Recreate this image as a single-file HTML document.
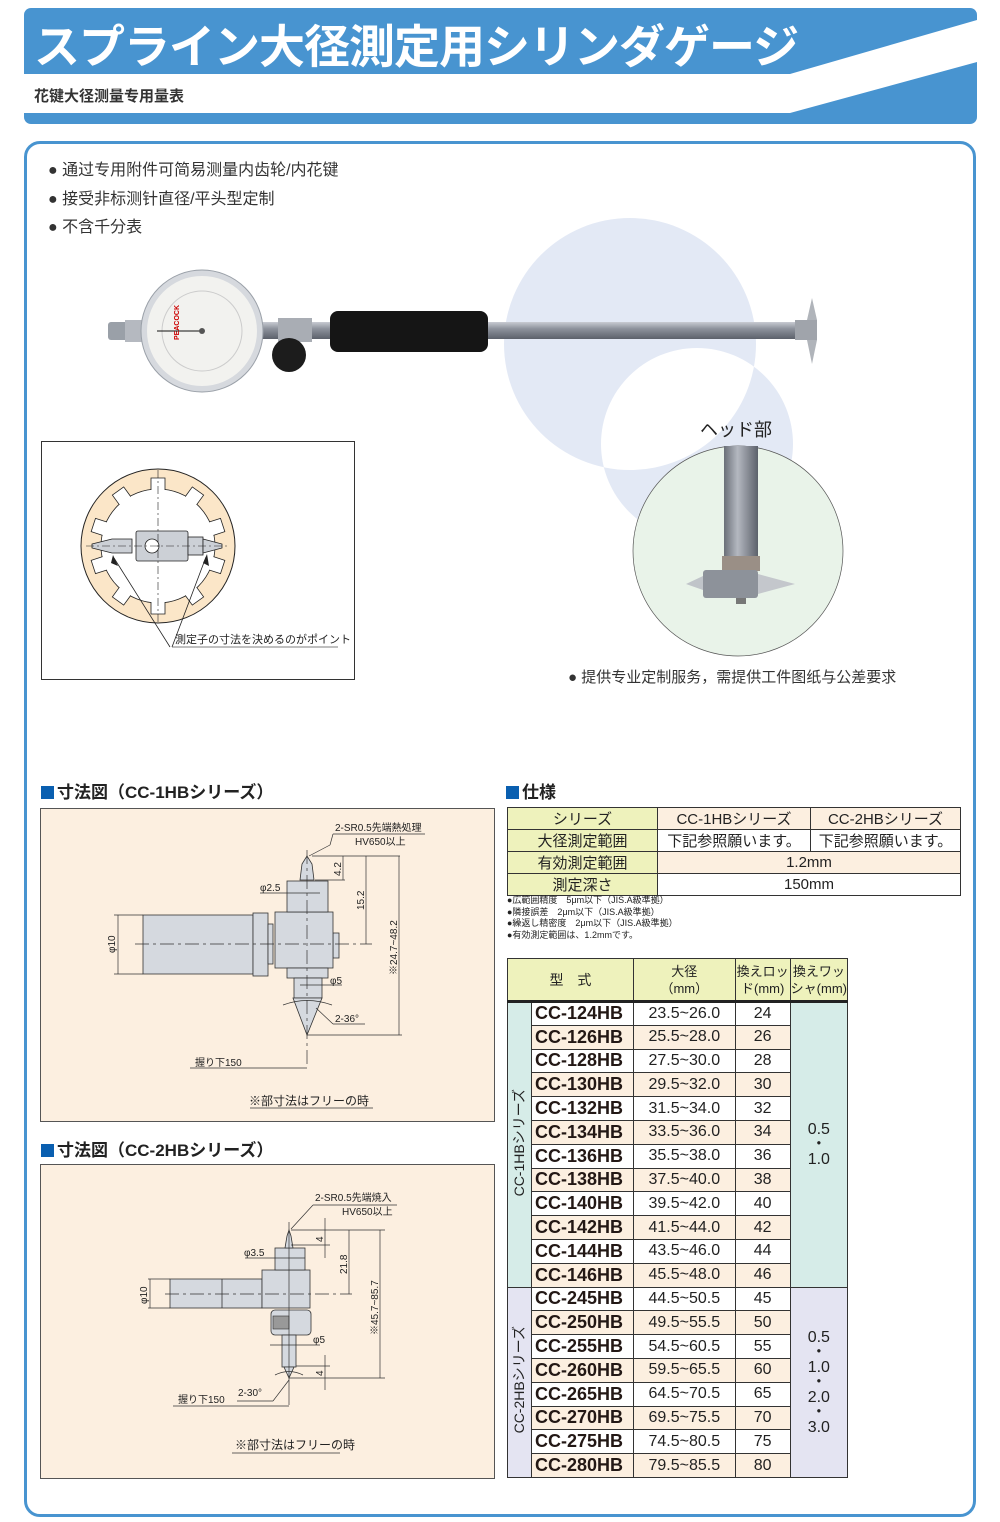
<!DOCTYPE html>
<html><head><meta charset="utf-8">
<style>
*{margin:0;padding:0;box-sizing:border-box}
body{width:1000px;height:1522px;background:#fff;position:relative;overflow:hidden;font-family:"Liberation Sans","Noto Sans CJK JP",sans-serif;color:#222}
.a{position:absolute;white-space:nowrap}
.sec{font-size:17px;font-weight:bold;color:#222}
.sec b{display:inline-block;width:13px;height:13px;background:#0a5fb0;margin-right:3px;vertical-align:-1px}
table{border-collapse:collapse;position:absolute}
td{border:1px solid #333;text-align:center;padding:0;white-space:nowrap}
.spec td{font-size:15px;height:21px;color:#222}
.g{background:#eef2bc}
.p{background:#fcefe0}
.m td{height:23.8px;font-size:16px}
.m td.n{font-weight:bold;font-size:18px;text-align:left;padding-left:3px;color:#231815}
.vl{writing-mode:vertical-rl;text-orientation:sideways;transform:rotate(180deg);font-size:14px;margin:0 auto;display:inline-block}
</style></head><body>

<!-- header -->
<svg class="a" style="left:0;top:0" width="1000" height="130">
<rect x="24" y="8" width="953" height="116" rx="7" fill="#4894d0"/>
<polygon points="24,74 790,74 977,20 977,62 790,113 24,113" fill="#fff"/>
</svg>
<div class="a" style="left:34px;top:11px;font-size:46px;font-weight:bold;color:#fff;letter-spacing:-1px;font-family:'Noto Sans CJK JP',sans-serif">スプライン大径測定用シリンダゲージ</div>
<div class="a" style="left:34px;top:85px;font-size:15px;color:#333;font-weight:bold">花键大径测量专用量表</div>

<!-- main frame -->
<div class="a" style="left:24px;top:141px;width:952px;height:1376px;border:3px solid #4894d0;border-radius:16px"></div>

<div class="a" style="left:48px;top:157px;font-size:16px;line-height:28.5px;color:#333">● 通过专用附件可简易测量内齿轮/内花键<br>● 接受非标测针直径/平头型定制<br>● 不含千分表</div>

<!-- circles & photos -->
<svg class="a" style="left:0;top:200px" width="1000" height="500" viewBox="0 200 1000 500">
<defs><clipPath id="c1"><circle cx="630" cy="344" r="126"/></clipPath>
<linearGradient id="bar" x1="0" y1="0" x2="0" y2="1"><stop offset="0" stop-color="#c8cbd2"/><stop offset=".4" stop-color="#8d929c"/><stop offset="1" stop-color="#5c616b"/></linearGradient>
<linearGradient id="vb" x1="0" y1="0" x2="1" y2="0"><stop offset="0" stop-color="#6a6f78"/><stop offset=".4" stop-color="#b4b8c0"/><stop offset="1" stop-color="#5c616b"/></linearGradient></defs>
<circle cx="630" cy="344" r="126" fill="#e3e9f5"/>
<circle cx="697" cy="444" r="96" fill="#e3e9f5"/>
<circle cx="697" cy="444" r="96" fill="#fff" clip-path="url(#c1)"/>
<rect x="108" y="322" width="40" height="18" rx="3" fill="#9aa0a8"/>
<rect x="125" y="320" width="20" height="22" fill="#b5b9c0"/>
<rect x="255" y="322" width="560" height="17" fill="url(#bar)"/>
<rect x="278" y="318" width="34" height="24" fill="#a9adb4"/>
<circle cx="289" cy="355" r="17" fill="#1c1c1c"/>
<rect x="330" y="311" width="158" height="41" rx="8" fill="#151515"/>
<circle cx="202" cy="331" r="61" fill="#d6d9de" stroke="#9aa0a8"/>
<circle cx="202" cy="331" r="55" fill="#f2f2ef"/>
<circle cx="202" cy="331" r="40" fill="none" stroke="#ccc"/>
<line x1="157" y1="331" x2="200" y2="331" stroke="#111" stroke-width="1"/>
<circle cx="202" cy="331" r="3" fill="#555"/>
<text x="165" y="340" font-size="7" fill="#c00" font-weight="bold" transform="rotate(-90 172 333)">PEACOCK</text>
<rect x="795" y="320" width="22" height="20" fill="#a0a4ab"/>
<polygon points="807,320 812,298 817,320" fill="#b0b4ba"/>
<polygon points="807,340 812,364 817,340" fill="#b0b4ba"/>
<circle cx="738" cy="551" r="105" fill="#e9f3e9" stroke="#555" stroke-width=".7"/>
<rect x="724" y="446" width="34" height="110" fill="url(#vb)"/>
<rect x="722" y="556" width="38" height="15" fill="#9a8f86"/>
<rect x="703" y="570" width="55" height="28" rx="3" fill="#8d929a"/>
<polygon points="703,576 686,584 703,590" fill="#c0c4c9"/>
<polygon points="758,574 795,584 758,594" fill="#c4c7cc"/>
<rect x="736" y="598" width="10" height="6" fill="#777"/>
</svg>
<div class="a" style="left:700px;top:416px;font-size:18px;color:#222">ヘッド部</div>
<div class="a" style="left:568px;top:666px;font-size:15px;color:#333">● 提供专业定制服务，需提供工件图纸与公差要求</div>

<!-- spline box -->
<div class="a" style="left:41px;top:441px;width:314px;height:239px;border:1px solid #333"></div>
<svg class="a" style="left:41px;top:441px" width="314" height="239" viewBox="41 441 314 239">
<circle cx="158" cy="546" r="77" fill="#fbe6c8" stroke="#222" stroke-width="1"/>
<circle cx="158" cy="546" r="57" fill="#fff" stroke="#222" stroke-width=".8"/>
<g fill="#fff">
<rect x="151" y="478" width="14" height="14" transform="rotate(0 158 546)"/>
<rect x="151" y="478" width="14" height="14" transform="rotate(36 158 546)"/>
<rect x="151" y="478" width="14" height="14" transform="rotate(72 158 546)"/>
<rect x="151" y="478" width="14" height="14" transform="rotate(108 158 546)"/>
<rect x="151" y="478" width="14" height="14" transform="rotate(144 158 546)"/>
<rect x="151" y="478" width="14" height="14" transform="rotate(180 158 546)"/>
<rect x="151" y="478" width="14" height="14" transform="rotate(216 158 546)"/>
<rect x="151" y="478" width="14" height="14" transform="rotate(252 158 546)"/>
<rect x="151" y="478" width="14" height="14" transform="rotate(288 158 546)"/>
<rect x="151" y="478" width="14" height="14" transform="rotate(324 158 546)"/>
</g>
<g fill="none" stroke="#222" stroke-width=".8">
<path d="M151,490 V478 H165 V490" transform="rotate(0 158 546)"/>
<path d="M151,490 V478 H165 V490" transform="rotate(36 158 546)"/>
<path d="M151,490 V478 H165 V490" transform="rotate(72 158 546)"/>
<path d="M151,490 V478 H165 V490" transform="rotate(108 158 546)"/>
<path d="M151,490 V478 H165 V490" transform="rotate(144 158 546)"/>
<path d="M151,490 V478 H165 V490" transform="rotate(180 158 546)"/>
<path d="M151,490 V478 H165 V490" transform="rotate(216 158 546)"/>
<path d="M151,490 V478 H165 V490" transform="rotate(252 158 546)"/>
<path d="M151,490 V478 H165 V490" transform="rotate(288 158 546)"/>
<path d="M151,490 V478 H165 V490" transform="rotate(324 158 546)"/>
</g>
<rect x="136" y="531" width="52" height="30" rx="2" fill="#ccd0d6" stroke="#222" stroke-width=".8"/>
<rect x="188" y="537" width="15" height="18" fill="#ccd0d6" stroke="#222" stroke-width=".8"/>
<polygon points="203,539 222,544 222,548 203,553" fill="#ccd0d6" stroke="#222" stroke-width=".8"/>
<polygon points="92,544 112,539 132,539 132,553 112,553 92,548" fill="#ccd0d6" stroke="#222" stroke-width=".8"/>
<circle cx="152" cy="546" r="7" fill="#fff" stroke="#222" stroke-width=".8"/>
<line x1="86" y1="546" x2="230" y2="546" stroke="#222" stroke-width=".6" stroke-dasharray="8,3,2,3"/>
<line x1="158" y1="470" x2="158" y2="622" stroke="#222" stroke-width=".6" stroke-dasharray="8,3,2,3"/>
<line x1="170" y1="647" x2="114" y2="558" stroke="#222" stroke-width=".8"/>
<line x1="172" y1="647" x2="206" y2="557" stroke="#222" stroke-width=".8"/>
<polygon points="113,555 118,566 111,563" fill="#222"/>
<polygon points="207,554 209,566 203,563" fill="#222"/>
<line x1="172" y1="647" x2="338" y2="647" stroke="#555" stroke-width=".8"/>
<text x="175" y="643" font-size="11" fill="#222" font-family="Noto Sans CJK JP">測定子の寸法を決めるのがポイント</text>
</svg>

<!-- dimension 1 -->
<div class="a sec" style="left:41px;top:778px"><b></b>寸法図（CC-1HBシリーズ）</div>
<svg class="a" style="left:40px;top:808px" width="455" height="314" viewBox="40 808 455 314" font-family="Liberation Sans,Noto Sans CJK JP" font-size="11" fill="#222">
<rect x="40.5" y="808.5" width="454" height="313" fill="#fcefe0" stroke="#555"/>
<g fill="#d5d9df" stroke="#333" stroke-width=".8">
<rect x="143" y="915" width="110" height="59"/>
<rect x="253" y="913" width="15" height="63"/>
<rect x="268" y="924" width="5" height="40"/>
<rect x="333" y="933" width="6" height="25"/>
<rect x="275" y="912" width="58" height="56"/>
<rect x="287" y="881" width="41" height="31"/>
<polygon points="300,880 302,864 307,856 312,864 314,880"/>
<rect x="287" y="968" width="41" height="10"/>
<rect x="294" y="978" width="28" height="20"/>
<polygon points="293,998 322,998 307,1035"/>
</g>
<line x1="135" y1="944" x2="372" y2="944" stroke="#333" stroke-width=".7" stroke-dasharray="14,4,3,4"/>
<line x1="307" y1="850" x2="307" y2="1068" stroke="#333" stroke-width=".7" stroke-dasharray="14,4,3,4"/>
<g stroke="#333" stroke-width=".7" fill="none">
<line x1="114" y1="915" x2="143" y2="915"/><line x1="114" y1="974" x2="143" y2="974"/><line x1="118" y1="915" x2="118" y2="974"/>
<line x1="312" y1="856" x2="400" y2="856"/><line x1="315" y1="880" x2="345" y2="880"/>
<line x1="343" y1="856" x2="343" y2="880"/><line x1="366" y1="856" x2="366" y2="944"/><line x1="399" y1="856" x2="399" y2="1035"/>
<line x1="307" y1="1035" x2="402" y2="1035"/>
<line x1="260" y1="893" x2="320" y2="893"/>
<line x1="300" y1="985" x2="342" y2="985"/>
<line x1="330" y1="845" x2="309" y2="856"/><line x1="333" y1="834" x2="425" y2="834"/><line x1="333" y1="834" x2="330" y2="845"/>
<path d="M283,1005 Q307,996 332,1005"/>
<line x1="316" y1="1008" x2="333" y2="1024"/><line x1="333" y1="1024" x2="365" y2="1024"/>
<line x1="190" y1="1068" x2="307" y2="1068"/>
<line x1="250" y1="1108" x2="373" y2="1108"/>
</g>
<text x="335" y="831" font-size="10">2-SR0.5先端熱処理</text>
<text x="355" y="845" font-size="10">HV650以上</text>
<text x="260" y="891" font-size="10">φ2.5</text>
<text x="330" y="984" font-size="10">φ5</text>
<text x="335" y="1022" font-size="10">2-36°</text>
<text x="195" y="1066" font-size="10">握り下150</text>
<text x="249" y="1105" font-size="12">※部寸法はフリーの時</text>
<text transform="translate(115 953) rotate(-90)" font-size="10">φ10</text>
<text transform="translate(341 876) rotate(-90)" font-size="10">4.2</text>
<text transform="translate(364 910) rotate(-90)" font-size="10">15.2</text>
<text transform="translate(397 975) rotate(-90)" font-size="10">※24.7~48.2</text>
</svg>

<!-- dimension 2 -->
<div class="a sec" style="left:41px;top:1136px"><b></b>寸法図（CC-2HBシリーズ）</div>
<svg class="a" style="left:40px;top:1164px" width="455" height="315" viewBox="40 1164 455 315" font-family="Liberation Sans,Noto Sans CJK JP" font-size="10" fill="#222">
<rect x="40.5" y="1164.5" width="454" height="314" fill="#fcefe0" stroke="#555"/>
<g fill="#d5d9df" stroke="#333" stroke-width=".8">
<rect x="170" y="1279" width="92" height="29"/>
<line x1="222" y1="1279" x2="222" y2="1308"/>
<rect x="262" y="1270" width="48" height="38"/>
<rect x="275" y="1248" width="30" height="22"/>
<polygon points="285,1248 287,1236 289,1230 291,1236 293,1248"/>
<rect x="271" y="1310" width="40" height="25" rx="4"/>
<rect x="282" y="1335" width="14" height="32"/>
<polygon points="284,1367 294,1367 289,1378"/>
</g>
<rect x="273" y="1316" width="16" height="13" fill="#999" stroke="#333" stroke-width=".6"/>
<line x1="165" y1="1294" x2="352" y2="1294" stroke="#333" stroke-width=".7" stroke-dasharray="14,4,3,4"/>
<line x1="289" y1="1222" x2="289" y2="1405" stroke="#333" stroke-width=".7"/>
<g stroke="#333" stroke-width=".7" fill="none">
<line x1="148" y1="1279" x2="170" y2="1279"/><line x1="148" y1="1308" x2="170" y2="1308"/><line x1="150" y1="1279" x2="150" y2="1308"/>
<line x1="291" y1="1230" x2="385" y2="1230"/><line x1="291" y1="1245" x2="330" y2="1245"/>
<line x1="325" y1="1218" x2="325" y2="1258"/><line x1="349" y1="1230" x2="349" y2="1294"/><line x1="380" y1="1230" x2="380" y2="1378"/>
<line x1="289" y1="1378" x2="385" y2="1378"/><line x1="296" y1="1366" x2="330" y2="1366"/>
<line x1="325" y1="1355" x2="325" y2="1390"/>
<line x1="245" y1="1258" x2="305" y2="1258"/>
<line x1="270" y1="1345" x2="320" y2="1345"/>
<line x1="291" y1="1229" x2="313" y2="1205"/><line x1="313" y1="1205" x2="397" y2="1205"/>
<line x1="289" y1="1380" x2="273" y2="1401"/><line x1="237" y1="1401" x2="273" y2="1401"/>
<path d="M275,1375 Q289,1368 303,1375"/>
<line x1="173" y1="1406" x2="289" y2="1406"/>
<line x1="232" y1="1453" x2="340" y2="1453"/>
</g>
<text x="315" y="1201">2-SR0.5先端焼入</text>
<text x="342" y="1215">HV650以上</text>
<text x="244" y="1256">φ3.5</text>
<text x="313" y="1343">φ5</text>
<text x="238" y="1396">2-30°</text>
<text x="178" y="1403">握り下150</text>
<text x="235" y="1449" font-size="12">※部寸法はフリーの時</text>
<text transform="translate(147 1304) rotate(-90)">φ10</text>
<text transform="translate(323 1242) rotate(-90)">4</text>
<text transform="translate(347 1274) rotate(-90)">21.8</text>
<text transform="translate(378 1335) rotate(-90)">※45.7~85.7</text>
<text transform="translate(323 1376) rotate(-90)">4</text>
</svg>

<!-- spec -->
<div class="a sec" style="left:506px;top:778px"><b></b>仕様</div>
<table class="spec" style="left:507px;top:807px;width:454px">
<tr><td class="g" style="width:150px">シリーズ</td><td class="p" style="width:153px">CC-1HBシリーズ</td><td class="p">CC-2HBシリーズ</td></tr>
<tr><td class="g">大径測定範囲</td><td>下記参照願います。</td><td>下記参照願います。</td></tr>
<tr><td class="g">有効測定範囲</td><td class="p" colspan="2">1.2mm</td></tr>
<tr><td class="g">測定深さ</td><td colspan="2">150mm</td></tr>
</table>
<div class="a" style="left:507px;top:895px;font-size:9px;line-height:11.5px;color:#222">●広範囲精度　5μm以下（JIS.A級準拠）<br>●隣接誤差　2μm以下（JIS.A級準拠）<br>●繰返し精密度　2μm以下（JIS.A級準拠）<br>●有効測定範囲は、1.2mmです。</div>

<table class="m" style="left:507px;top:958px;width:341px">
<tr style="border-bottom:3px solid #222"><td class="g" colspan="2" style="height:43px;font-size:14px">型　式</td><td class="g" style="font-size:13px;line-height:17px">大径<br>（mm）</td><td class="g" style="font-size:13px;line-height:17px">換えロッ<br>ド(mm)</td><td class="g" style="font-size:13px;line-height:17px">換えワッ<br>シャ(mm)</td></tr>
<tr><td rowspan="12" style="width:24px;background:#d6ece8"><span class="vl">CC-1HBシリーズ</span></td><td class="n" style="width:102px">CC-124HB</td><td style="width:102px">23.5~26.0</td><td style="width:55px">24</td><td rowspan="12" style="background:#d6ece8;font-size:16px;line-height:15px">0.5<br>・<br>1.0</td></tr>
<tr class="p"><td class="n">CC-126HB</td><td>25.5~28.0</td><td>26</td></tr>
<tr><td class="n">CC-128HB</td><td>27.5~30.0</td><td>28</td></tr>
<tr class="p"><td class="n">CC-130HB</td><td>29.5~32.0</td><td>30</td></tr>
<tr><td class="n">CC-132HB</td><td>31.5~34.0</td><td>32</td></tr>
<tr class="p"><td class="n">CC-134HB</td><td>33.5~36.0</td><td>34</td></tr>
<tr><td class="n">CC-136HB</td><td>35.5~38.0</td><td>36</td></tr>
<tr class="p"><td class="n">CC-138HB</td><td>37.5~40.0</td><td>38</td></tr>
<tr><td class="n">CC-140HB</td><td>39.5~42.0</td><td>40</td></tr>
<tr class="p"><td class="n">CC-142HB</td><td>41.5~44.0</td><td>42</td></tr>
<tr><td class="n">CC-144HB</td><td>43.5~46.0</td><td>44</td></tr>
<tr class="p"><td class="n">CC-146HB</td><td>45.5~48.0</td><td>46</td></tr>
<tr><td rowspan="8" style="background:#e4e4f2"><span class="vl">CC-2HBシリーズ</span></td><td class="n">CC-245HB</td><td>44.5~50.5</td><td>45</td><td rowspan="8" style="background:#e4e4f2;font-size:16px;line-height:15px">0.5<br>・<br>1.0<br>・<br>2.0<br>・<br>3.0</td></tr>
<tr class="p"><td class="n">CC-250HB</td><td>49.5~55.5</td><td>50</td></tr>
<tr><td class="n">CC-255HB</td><td>54.5~60.5</td><td>55</td></tr>
<tr class="p"><td class="n">CC-260HB</td><td>59.5~65.5</td><td>60</td></tr>
<tr><td class="n">CC-265HB</td><td>64.5~70.5</td><td>65</td></tr>
<tr class="p"><td class="n">CC-270HB</td><td>69.5~75.5</td><td>70</td></tr>
<tr><td class="n">CC-275HB</td><td>74.5~80.5</td><td>75</td></tr>
<tr class="p"><td class="n">CC-280HB</td><td>79.5~85.5</td><td>80</td></tr>
</table>
</body></html>
